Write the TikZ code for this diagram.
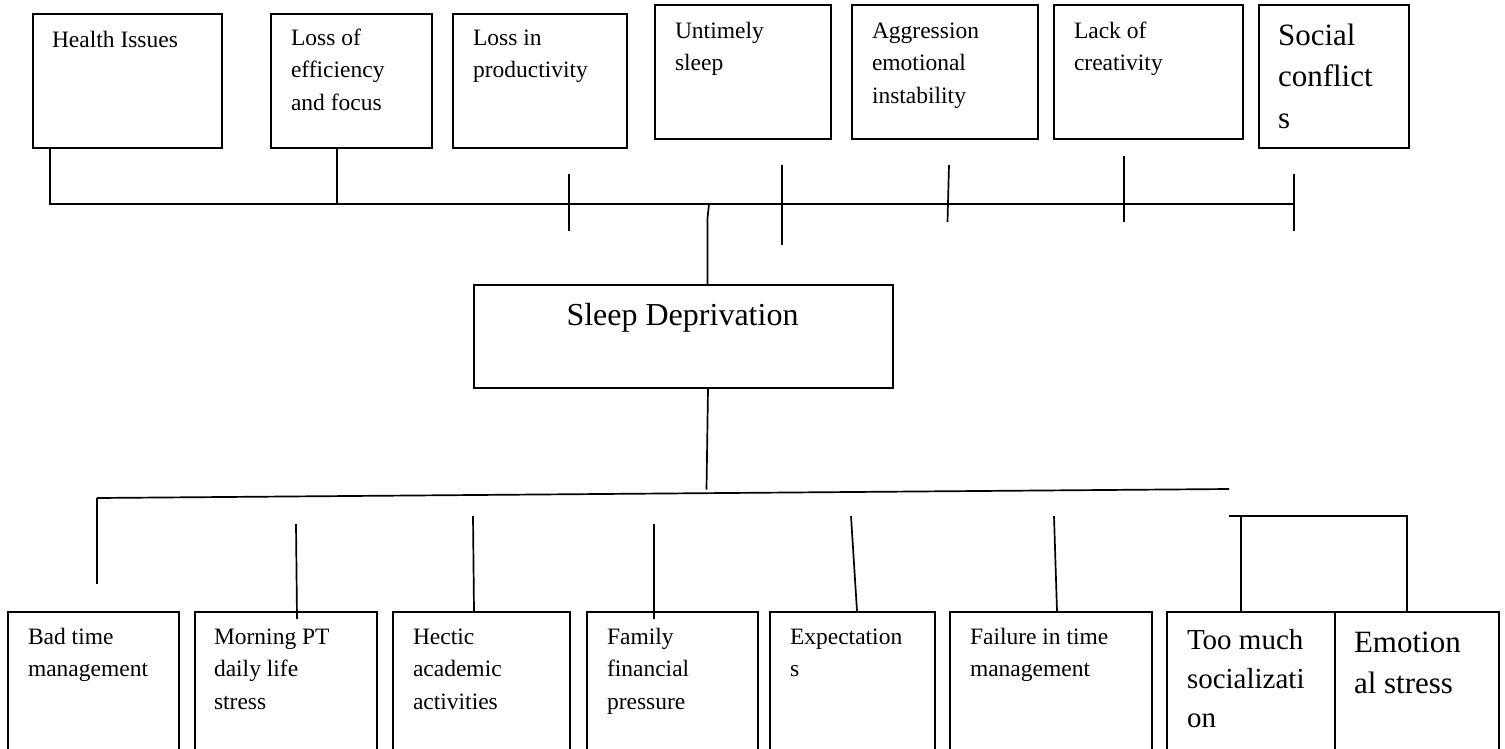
\documentclass[tikz,border=0pt]{standalone}
\usepackage{fontspec}
\setmainfont{Liberation Serif}
\usetikzlibrary{calc}

% multi-line cell text: size, leading, lines (first baseline is the reference point)
\newcommand{\celltext}[3]{\parbox[t]{400pt}{\fontsize{#1}{#2}\selectfont #3}}

\tikzset{
  box/.style={draw, line width=2pt, inner sep=0pt, anchor=north west},
  wire/.style={line width=1.7pt},
  lbl/.style={anchor=base west, inner sep=0pt, outer sep=0pt},
}

\begin{document}
\begin{tikzpicture}[x=1pt, y=-1pt]
\useasboundingbox (0,0) rectangle (1505,748);
\clip (0,0) rectangle (1505,748);

% ---- consequences (top row) ----
\node[box, minimum width=189pt, minimum height=134pt] (h1) at (32,13) {};
\node[box, minimum width=161pt, minimum height=134pt] (h2) at (270,13) {};
\node[box, minimum width=174pt, minimum height=134pt] (h3) at (452,13) {};
\node[box, minimum width=176pt, minimum height=134pt] (h4) at (654,4) {};
\node[box, minimum width=186pt, minimum height=134pt] (h5) at (851,4) {};
\node[box, minimum width=189pt, minimum height=134pt] (h6) at (1053,4) {};
\node[box, minimum width=150pt, minimum height=143pt] (h7) at (1258,4) {};

\node[lbl] (t1) at ($(h1.north west)+(20,34)$) {\celltext{23.5}{32.5}{Health Issues}};
\node[lbl] (t2) at ($(h2.north west)+(21,32)$) {\celltext{23.5}{32.5}{Loss of\\efficiency\\and focus}};
\node[lbl] (t3) at ($(h3.north west)+(21,32)$) {\celltext{23.5}{32.5}{Loss in\\productivity}};
\node[lbl] (t4) at ($(h4.north west)+(21,34)$) {\celltext{23.5}{32.5}{Untimely\\sleep}};
\node[lbl] (t5) at ($(h5.north west)+(21,34)$) {\celltext{23.5}{32.5}{Aggression\\emotional\\instability}};
\node[lbl] (t6) at ($(h6.north west)+(21,34)$) {\celltext{23.5}{32.5}{Lack of\\creativity}};
\node[lbl] (t7) at ($(h7.north west)+(20,41)$) {\celltext{31}{41.5}{Social\\conflict\\s}};

% ---- central problem ----
\node[box, minimum width=419pt, minimum height=103pt] (sleep) at (473,284) {};
\node[anchor=base, inner sep=0pt] (st) at ($(sleep.north west)+(209.5,41)$) {\fontsize{32}{38}\selectfont Sleep Deprivation};

% ---- causes (bottom row) ----
\node[box, minimum width=171pt, minimum height=160pt] (b1) at (7,611) {};
\node[box, minimum width=182pt, minimum height=160pt] (b2) at (194,611) {};
\node[box, minimum width=177pt, minimum height=160pt] (b3) at (392,611) {};
\node[box, minimum width=171pt, minimum height=160pt] (b4) at (586,611) {};
\node[box, minimum width=165pt, minimum height=160pt] (b5) at (769,611) {};
\node[box, minimum width=202pt, minimum height=160pt] (b6) at (949,611) {};
\node[box, minimum width=168pt, minimum height=160pt] (b7) at (1166,611) {};
\node[box, minimum width=164pt, minimum height=160pt] (b8) at (1334,611) {};

\node[lbl] (c1) at ($(b1.north west)+(21,33)$) {\celltext{23.5}{32.5}{Bad time\\management}};
\node[lbl] (c2) at ($(b2.north west)+(20,33)$) {\celltext{23.5}{32.5}{Morning PT\\daily life\\stress}};
\node[lbl] (c3) at ($(b3.north west)+(21,33)$) {\celltext{23.5}{32.5}{Hectic\\academic\\activities}};
\node[lbl] (c4) at ($(b4.north west)+(21,33)$) {\celltext{23.5}{32.5}{Family\\financial\\pressure}};
\node[lbl] (c5) at ($(b5.north west)+(21,33)$) {\celltext{23.5}{32.5}{Expectation\\s}};
\node[lbl] (c6) at ($(b6.north west)+(21,33)$) {\celltext{23.5}{32.5}{Failure in time\\management}};
\node[lbl] (c7) at ($(b7.north west)+(21,38)$) {\celltext{29}{39}{Too much\\socializati\\on}};
\node[lbl] (c8) at ($(b8.north west)+(20,41)$) {\celltext{31}{41}{Emotion\\al stress}};

% ---- upper bus and its branches ----
\coordinate (busL) at (50,204);
\coordinate (busR) at (1294,204);
\draw[wire] ($(h1.south west)+(18,0)$) |- (busR);
\draw[wire] ($(h2.south west)+(67,0)$) |- (busL);

\coordinate (k1a) at (569,174);  \coordinate (k1b) at (569,231);
\coordinate (k2a) at (782,165);  \coordinate (k2b) at (782,245);
\coordinate (k3a) at (949,165);  \coordinate (k3b) at (947.5,222);
\coordinate (k4a) at (1124,156); \coordinate (k4b) at (1124,222);
\coordinate (k5a) at (1294,174); \coordinate (k5b) at (1294,231);
\draw[wire] (k1a) -- (k1b);
\draw[wire] (k2a) -- (k2b);
\draw[wire] (k3a) -- (k3b);
\draw[wire] (k4a) -- (k4b);
\draw[wire] (k5a) -- (k5b);

% link from the bus down to the central box
\coordinate (tap) at (709,204);
\coordinate (kink) at (707.5,218);
\draw[wire] (tap) -- (kink) -- (kink |- sleep.north);

% ---- lower bus and its branches ----
\coordinate (lbL) at (97,498);
\coordinate (lbR) at (1229,489);
\coordinate (lbM) at (706.5,489.5);
\draw[wire] ($(sleep.south west)+(235,0)$) -- (lbM);
\draw[wire] (lbL) -- (lbR);
\coordinate (d1) at (97,584);
\draw[wire] (lbL) -- (d1);

\coordinate (d2) at (296,524);
\coordinate (d3) at (473,516);
\coordinate (d4) at (654,524);
\coordinate (d5) at (851,516);
\coordinate (d6) at (1054,516);
\draw[wire] (d2) -- ($(b2.north west)+(103,8)$);
\draw[wire] (d3) -- ($(b3.north west)+(82,0)$);
\draw[wire] (d4) -- ($(b4.north west)+(68,8)$);
\draw[wire] (d5) -- ($(b5.north west)+(88,0)$);
\draw[wire] (d6) -- ($(b6.north west)+(108,0)$);

% bracket over the last two causes
\coordinate (brL) at (1229,516);
\draw[wire] (brL) -| ($(b8.north west)+(73,0)$);
\draw[wire] ($(b7.north west)+(75,0)$) -- ($(b7.north west)+(75,-95)$);
\end{tikzpicture}
\end{document}
